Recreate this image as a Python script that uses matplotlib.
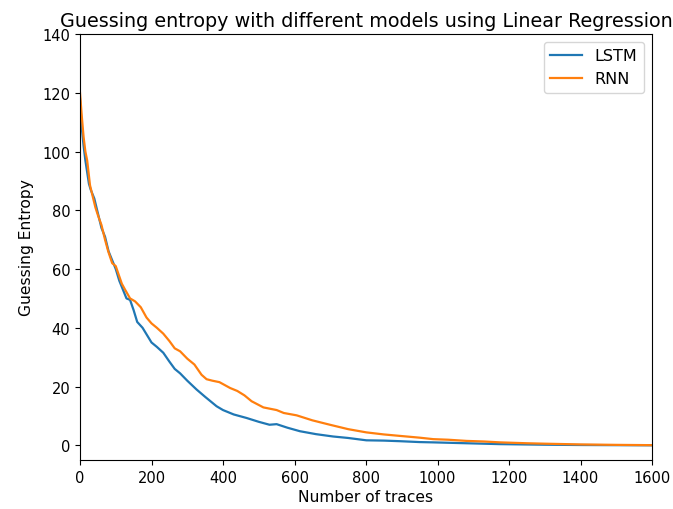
import matplotlib
matplotlib.use("Agg")
import matplotlib.pyplot as plt

lstm_x = [0, 5, 10, 15, 20, 25, 30, 40, 50, 60, 70, 80, 90, 100, 110, 120, 130, 140, 150,
          160, 175, 190, 200, 215, 233, 250, 265, 280, 300, 326, 350, 382, 400, 430, 466,
          500, 530, 550, 580, 615, 660, 708, 750, 801, 850, 895, 950, 988, 1081, 1175,
          1300, 1400, 1500, 1600]
lstm_y = [118, 108, 102, 97, 93, 89, 87, 84, 79, 74, 71, 66, 63, 60, 56, 53, 50, 49.5, 46,
          42, 40, 37, 35, 33.5, 31.5, 28.5, 26, 24.5, 22, 19, 16.5, 13.3, 12, 10.5, 9.3,
          8, 7, 7.2, 6, 4.8, 3.8, 3, 2.5, 1.7, 1.6, 1.4, 1.1, 1.0, 0.7, 0.4,
          0.2, 0.1, 0.05, 0.0]

rnn_x = [0, 5, 10, 15, 20, 28, 35, 43, 51, 60, 70, 79, 90, 100, 107, 117, 126, 140, 154,
         170, 186, 200, 215, 233, 250, 265, 280, 300, 320, 340, 354, 370, 390, 420, 440,
         460, 480, 513, 550, 570, 606, 650, 699, 750, 801, 850, 895, 950, 988, 1030,
         1081, 1130, 1175, 1250, 1300, 1400, 1500, 1600]
rnn_y = [120, 112, 105, 100, 97, 88.5, 85, 81, 78, 75, 70, 66, 62, 61, 58.5, 55, 53, 50, 49,
         47, 43.5, 41.5, 40, 38, 35.5, 33, 32, 29.5, 27.5, 24, 22.5, 22, 21.5, 19.5, 18.5,
         17, 15, 12.9, 12, 11, 10.2, 8.5, 7, 5.5, 4.4, 3.7, 3.2, 2.6, 2.1, 1.9,
         1.5, 1.3, 1.0, 0.7, 0.55, 0.3, 0.15, 0.05]

fig = plt.figure(figsize=(6.73, 5.10), dpi=100)
ax = fig.add_axes([80/673, 1-461/510, 572/673, 426/510])
ax.plot(lstm_x, lstm_y, color="#1f77b4", label="LSTM", lw=1.6)
ax.plot(rnn_x, rnn_y, color="#ff7f0e", label="RNN", lw=1.6)
ax.set_xlim(0, 1600)
ax.set_ylim(-5, 140)
ax.set_xticks(range(0, 1601, 200))
ax.set_yticks(range(0, 141, 20))
ax.tick_params(labelsize=10.5)
ax.set_xlabel("Number of traces", fontsize=11.2, labelpad=3)
ax.set_ylabel("Guessing Entropy", fontsize=11.2, labelpad=6)
ax.set_title("Guessing entropy with different models using Linear Regression", fontsize=13.8, pad=6)
ax.legend(loc="upper right", fontsize=11.5)
fig.savefig("out.png", dpi=100)
